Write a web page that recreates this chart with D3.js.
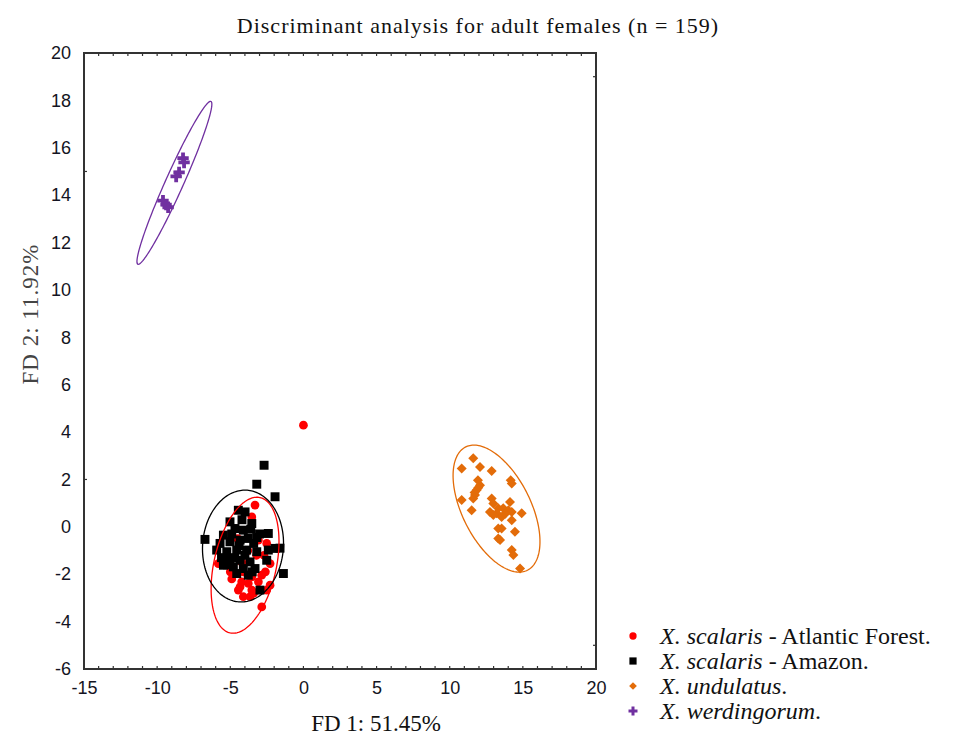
<!DOCTYPE html>
<html><head><meta charset="utf-8">
<script src="https://cdn.jsdelivr.net/npm/d3@7"></script>
<style>body{margin:0;background:#fff}svg{display:block}</style>
</head><body>
<script>
// ---- data ----
const xTicks = [-15,-10,-5,0,5,10,15,20];
const yTicks = [-6,-4,-2,0,2,4,6,8,10,12,14,16,18,20];
const xMinor = d3.range(-14,20,1);
const leftMinor = [15,2];
const rightMinor = [19,-5];

const atlantic = [[-3.31,0.92],[-5.82,-1.55],[-4.11,-1.90],[-3.53,-2.11],[-2.85,-2.04],[-4.22,-2.32],[-3.77,-2.39],
 [-3.08,-2.32],[-4.33,-2.53],[-4.45,-2.67],[-2.28,-2.46],[-3.53,-2.67],[-2.51,-2.67],[-3.65,-2.95],[-2.85,-3.38],
 [-4.11,-2.95],[-3.08,-0.56],[-2.51,-0.70],[-3.53,0.42],[-2.28,-1.55],[0.0,4.29],[-4.5,-0.5],[-3.8,-1.0],
 [-4.2,-1.5],[-3.2,-1.2],[-5.0,-1.9],[-2.7,-1.2],[-4.9,-2.2],[-3.4,-2.8],[-5.3,-1.3],[-2.6,-1.9]];
const amazon = [[-2.69,2.60],[-3.19,1.80],[-1.94,1.27],[-4.45,0.70],[-3.99,0.63],[-5.02,0.21],[-3.53,0.14],[-4.68,-0.07],
 [-4.11,-0.14],[-2.40,-0.28],[-5.47,-0.35],[-6.73,-0.53],[-3.19,-0.45],[-5.70,-0.70],[-5.02,-0.63],[-4.33,-0.56],
 [-3.77,-0.49],[-1.94,-0.91],[-2.40,-0.98],[-5.93,-0.98],[-5.24,-1.05],[-4.56,-0.98],[-3.88,-0.98],[-3.19,-1.05],
 [-2.51,-1.41],[-5.02,-1.41],[-4.33,-1.41],[-3.65,-1.48],[-5.47,-1.62],[-4.79,-1.69],[-4.11,-1.76],[-3.31,-1.76],
 [-1.37,-1.97],[-2.97,-2.67],[-4.56,-1.97],[-3.77,-2.04],[-4.9,-0.3],[-4.4,-0.8],[-3.6,-0.1],[-4.0,-1.2],[-5.2,-1.6],
 [-4.7,-1.3],[-3.4,-0.7],[-4.2,0.3],[-5.6,-1.3],[-3.0,-0.3],[-3.5,-1.9],[-1.6,-0.9]];
const undulatus = [[11.61,2.89],[10.82,2.46],[12.07,2.53],[12.87,2.36],[14.17,1.97],[14.24,1.83],[12.07,1.76],[11.85,1.55],
 [11.73,1.34],[11.61,1.20],[10.82,1.13],[12.87,1.20],[14.12,1.05],[12.98,0.99],[11.50,0.70],[13.32,0.78],[13.66,0.78],
 [14.01,0.70],[12.75,0.63],[13.21,0.57],[14.24,0.63],[14.92,0.57],[13.55,0.42],[14.24,0.28],[13.32,-0.07],[13.55,-0.07],
 [14.46,-0.21],[13.32,-0.49],[13.44,-0.56],[14.24,-0.98],[14.35,-1.19],[14.81,-1.76],[11.93,1.97],[11.95,1.65],
 [11.7,1.45],[12.98,0.5],[13.8,0.55]];
const werdingorum = [[-8.23,15.56],[-8.16,15.38],[-8.5,14.96],[-8.7,14.79],[-9.6,13.77],[-9.39,13.6],[-9.25,13.49]];

// ellipses: center, half-ranges, correlation
const ellipses = [
 {cx:-3.99, cy:-1.62, sx:2.32, sy:2.87, r:0.35, color:"#ff0000"},
 {cx:-4.13, cy:-0.81, sx:2.77, sy:2.36, r:0.05, color:"#000000"},
 {cx:13.2, cy:0.77, sx:2.97, sy:2.68, r:-0.52, color:"#e36c09"},
 {cx:-8.82, cy:14.52, sx:2.56, sy:3.44, r:0.965, color:"#7030a0"}
];

const groups = [
 {data:atlantic, color:"#ff0000", sym:d3.symbolCircle, size:60, lsize:42, rot:0, it:"X. scalaris", rest:" - Atlantic Forest."},
 {data:amazon, color:"#000000", sym:d3.symbolSquare, size:80, lsize:52, rot:0, it:"X. scalaris", rest:" - Amazon."},
 {data:undulatus, color:"#e36c09", sym:d3.symbolSquare, size:50, lsize:30, rot:45, it:"X. undulatus", rest:"."},
 {data:werdingorum, color:"#7030a0", sym:d3.symbolCross, size:72, lsize:45, rot:0, it:"X. werdingorum", rest:"."}
];

// ---- chart ----
const W=954,H=743;
const serif="'Liberation Serif','Times New Roman',serif";
const svg=d3.select("body").append("svg").attr("width",W).attr("height",H);
const x=d3.scaleLinear().domain([-15,20]).range([84,596]);
const y=d3.scaleLinear().domain([-6,20]).range([669,53]);

svg.append("text").attr("x",478).attr("y",33).attr("text-anchor","middle")
  .style("font-family",serif).style("font-size","22px").style("letter-spacing","1px").attr("fill","#111")
  .text("Discriminant analysis for adult females (n = 159)");

// tick labels
const fmt=d=>String(d);
const axL=svg.append("g").attr("transform",`translate(${x(-15)},0)`)
  .call(d3.axisLeft(y).tickValues(yTicks).tickFormat(fmt).tickSize(0).tickPadding(13));
const axB=svg.append("g").attr("transform",`translate(0,${y(-6)})`)
  .call(d3.axisBottom(x).tickValues(xTicks).tickFormat(fmt).tickSize(0).tickPadding(12));
[axL,axB].forEach(a=>{a.select(".domain").remove();
  a.selectAll("text").style("font-family","'Liberation Sans',Arial,sans-serif").style("font-size","18px").attr("fill","#141422");});

// minor ticks (inward)
const tk=svg.append("g").attr("stroke","#333").attr("stroke-width",1.2);
xMinor.forEach(v=>{
  tk.append("line").attr("x1",x(v)).attr("x2",x(v)).attr("y1",y(-6)).attr("y2",y(-6)-3);
  tk.append("line").attr("x1",x(v)).attr("x2",x(v)).attr("y1",y(20)).attr("y2",y(20)+3);
});
leftMinor.forEach(v=>tk.append("line").attr("x1",x(-15)).attr("x2",x(-15)+3).attr("y1",y(v)).attr("y2",y(v)));
rightMinor.forEach(v=>tk.append("line").attr("x1",x(20)).attr("x2",x(20)-3).attr("y1",y(v)).attr("y2",y(v)));

// frame
svg.append("rect").attr("x",x(-15)).attr("y",y(20)).attr("width",x(20)-x(-15)).attr("height",y(-6)-y(20))
  .attr("fill","none").attr("stroke","#333").attr("stroke-width",2);

// axis titles
svg.append("text").attr("x",376).attr("y",731).attr("text-anchor","middle")
  .style("font-family",serif).style("font-size","23px").attr("fill","#111")
  .text("FD 1: 51.45%");
svg.append("text").attr("transform","translate(38,314) rotate(-90)").attr("text-anchor","middle")
  .style("font-family",serif).style("font-size","23px").style("letter-spacing","1px").attr("fill","#444")
  .text("FD 2: 11.92%");

// points
const pts=svg.append("g");
groups.forEach(g=>{
  pts.append("g").selectAll("path").data(g.data).join("path")
    .attr("d",d3.symbol().type(g.sym).size(g.size))
    .attr("transform",d=>`translate(${x(d[0])},${y(d[1])}) rotate(${g.rot})`)
    .attr("fill",g.color);
});

// ellipses
const line=d3.line().x(d=>x(d[0])).y(d=>y(d[1])).curve(d3.curveLinearClosed);
ellipses.forEach(e=>{
  const q=Math.sqrt(1-e.r*e.r);
  const p=d3.range(0,2*Math.PI,Math.PI/90).map(t=>[e.cx+e.sx*Math.cos(t), e.cy+e.sy*(e.r*Math.cos(t)+q*Math.sin(t))]);
  svg.append("path").attr("d",line(p)).attr("fill","none").attr("stroke",e.color).attr("stroke-width",1.3);
});

// legend
const lg=svg.append("g");
groups.forEach((g,i)=>{
  const yy=636+i*25;
  lg.append("path").attr("d",d3.symbol().type(g.sym).size(g.lsize)).attr("transform",`translate(633,${yy}) rotate(${g.rot})`).attr("fill",g.color);
  const t=lg.append("text").attr("x",660).attr("y",yy+8)
    .style("font-family",serif).style("font-size","24px").attr("fill","#111");
  t.append("tspan").style("font-style","italic").text(g.it);
  t.append("tspan").text(g.rest);
});
</script>
</body></html>
